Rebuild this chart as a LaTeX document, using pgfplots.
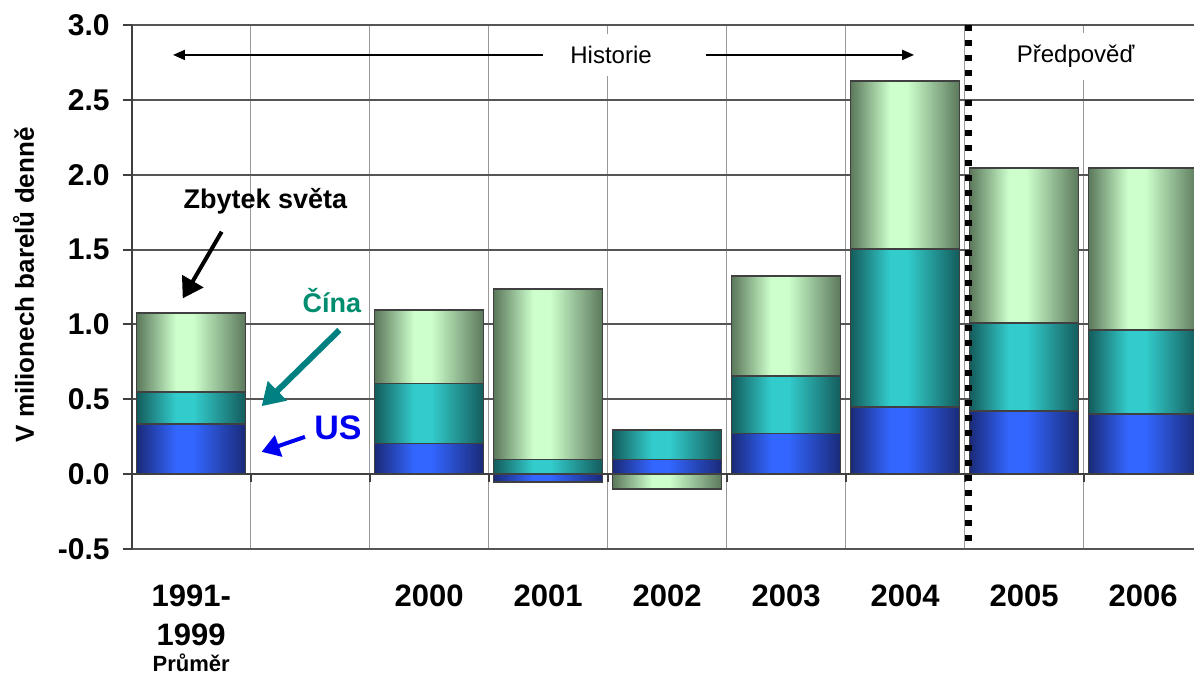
\documentclass[border=0pt]{standalone}
\usepackage{fontspec}
\setmainfont{Liberation Sans}
\usepackage{pgfplots}
\pgfplotsset{compat=1.18}
\usetikzlibrary{arrows.meta}
\definecolor{gDark}{HTML}{5B785B}
\definecolor{gLight}{HTML}{CCFFCC}
\definecolor{tDark}{HTML}{145C5C}
\definecolor{tLight}{HTML}{33CCCC}
\definecolor{bDark}{HTML}{1A2A78}
\definecolor{bLight}{HTML}{3366FF}
\definecolor{cinaText}{HTML}{008C6E}
\definecolor{cinaArrow}{HTML}{008080}
\definecolor{usBlue}{HTML}{0000F0}
\definecolor{hgrid}{HTML}{555555}
\definecolor{vgrid}{HTML}{999999}
\definecolor{edge}{HTML}{404040}
\pgfdeclarehorizontalshading{gshade}{100bp}{color(0bp)=(gDark); color(25bp)=(gDark); color(43bp)=(gLight); color(51bp)=(gLight); color(75bp)=(gDark); color(100bp)=(gDark)}
\pgfdeclarehorizontalshading{tshade}{100bp}{color(0bp)=(tDark); color(25bp)=(tDark); color(43bp)=(tLight); color(51bp)=(tLight); color(75bp)=(tDark); color(100bp)=(tDark)}
\pgfdeclarehorizontalshading{bshade}{100bp}{color(0bp)=(bDark); color(25bp)=(bDark); color(43bp)=(bLight); color(51bp)=(bLight); color(75bp)=(bDark); color(100bp)=(bDark)}
\pgfplotsset{
  barbase/.style={ybar, bar width=54.5pt, bar shift=0pt, draw=edge, line width=0.8pt, forget plot},
  gbar/.style={barbase, shade, shading=gshade},
  tbar/.style={barbase, shade, shading=tshade},
  bbar/.style={barbase, shade, shading=bshade},
}
\begin{document}
\begin{tikzpicture}
\begin{axis}[
  at={(65.85pt,-12.5pt)}, anchor=north west,
  scale only axis, width=531.15pt, height=262pt,
  xmin=-0.5, xmax=8.427, ymin=-0.5, ymax=3.0,
  clip=true,
  axis x line*=bottom, axis y line*=left,
  x axis line style={draw=none},
  y axis line style={draw=edge, line width=1pt},
  xtick={0,1,2,3,4,5,6,7,8},
  xticklabels={{1991-\\1999\\[-6.3pt]{\fontsize{11}{13}\selectfont Průměr}},{},2000,2001,2002,2003,2004,2005,2006},
  minor xtick={0.5,1.5,2.5,3.5,4.5,5.5,6.5,7.5,8.5},
  xminorgrids=true,
  minor grid style={draw=vgrid, line width=0.8pt},
  xtick style={draw=none},
  minor x tick style={draw=none},
  xticklabel style={font=\fontsize{15.5}{19.3}\selectfont\bfseries, align=center, anchor=north, yshift=-10pt},
  ytick={-0.5,0,0.5,1,1.5,2,2.5,3},
  yticklabels={-0.5,0.0,0.5,1.0,1.5,2.0,2.5,3.0},
  ymajorgrids=true,
  major grid style={draw=hgrid, line width=1pt},
  ytick style={draw=edge, line width=1pt},
  tick align=outside,
  major tick length=4.5pt,
  ytick pos=left,
  yticklabel style={font=\fontsize{15}{17}\selectfont\bfseries, xshift=-3pt},
  ylabel={V milionech barelů denně},
  ylabel style={font=\fontsize{13}{15}\selectfont\bfseries, at={(axis description cs:-0.1019,0.504)}, anchor=center},
]
% each bar drawn on its own so that the cylinder shading is per bar:
% green = Zbytek světa (top of stack), teal = Čína (top of US + Čína), blue = US
% 1991-1999
\addplot[gbar] coordinates {(0,1.075)};
\addplot[tbar] coordinates {(0,0.55)};
\addplot[bbar] coordinates {(0,0.334)};
% 2000
\addplot[gbar] coordinates {(2,1.096)};
\addplot[tbar] coordinates {(2,0.606)};
\addplot[bbar] coordinates {(2,0.205)};
% 2001
\addplot[gbar] coordinates {(3,1.238)};
\addplot[tbar] coordinates {(3,0.098)};
\addplot[bbar] coordinates {(3,-0.051)};
% 2002
\addplot[gbar] coordinates {(4,-0.098)};
\addplot[tbar] coordinates {(4,0.294)};
\addplot[bbar] coordinates {(4,0.098)};
% 2003
\addplot[gbar] coordinates {(5,1.325)};
\addplot[tbar] coordinates {(5,0.655)};
\addplot[bbar] coordinates {(5,0.272)};
% 2004
\addplot[gbar] coordinates {(6,2.627)};
\addplot[tbar] coordinates {(6,1.503)};
\addplot[bbar] coordinates {(6,0.45)};
% 2005
\addplot[gbar] coordinates {(7,2.045)};
\addplot[tbar] coordinates {(7,1.01)};
\addplot[bbar] coordinates {(7,0.42)};
% 2006
\addplot[gbar] coordinates {(8,2.045)};
\addplot[tbar] coordinates {(8,0.962)};
\addplot[bbar] coordinates {(8,0.40)};
% zero line with ticks
\draw[edge, line width=1pt] (axis cs:-0.5,0) -- (axis cs:8.5,0);
\pgfplotsinvokeforeach{0.5,1.5,2.5,3.5,4.5,5.5,6.5,7.5}{\draw[edge, line width=1pt] (axis cs:#1,0) -- ++(0pt,-4pt);}
% history / forecast divider
\draw[black, line width=3.5pt, dash pattern=on 3pt off 4.5pt] (axis cs:6.53,3.0) -- (axis cs:6.53,-0.5);
% Historie
\node[fill=white, inner xsep=4pt, inner ysep=6pt, font=\fontsize{12}{14}\selectfont] at (axis cs:3.528,2.80) {Historie};
\draw[line width=1pt, -{Triangle[length=6pt,width=5pt]}] (axis cs:2.957,2.80) -- (axis cs:-0.153,2.80);
\draw[line width=1pt, -{Triangle[length=6pt,width=5pt]}] (axis cs:4.327,2.80) -- (axis cs:6.075,2.80);
% Předpověď
\node[fill=white, inner xsep=4pt, inner ysep=6pt, font=\fontsize{12}{14}\selectfont] at (axis cs:7.432,2.79) {Předpověď};
% annotations
\node[font=\fontsize{13.5}{15}\selectfont\bfseries] at (axis cs:0.624,1.824) {Zbytek světa};
\draw[line width=2pt, -{Triangle[length=10pt,width=12pt]}] (axis cs:0.256,1.619) -- (axis cs:-0.071,1.174);
\node[font=\fontsize{13.5}{15}\selectfont\bfseries, text=cinaText] at (axis cs:1.183,1.159) {Čína};
\draw[cinaArrow, line width=3pt, -{Triangle[length=11pt,width=13pt]}] (axis cs:1.245,0.962) -- (axis cs:0.592,0.454);
\node[font=\fontsize{17}{19}\selectfont\bfseries, text=usBlue] at (axis cs:1.234,0.311) {US};
\draw[usBlue, line width=2pt, -{Triangle[length=9pt,width=11pt]}] (axis cs:0.956,0.249) -- (axis cs:0.592,0.149);
\end{axis}
\pgfresetboundingbox
\path[use as bounding box] (0,0) rectangle (597pt,-339pt);
\end{tikzpicture}
\end{document}
